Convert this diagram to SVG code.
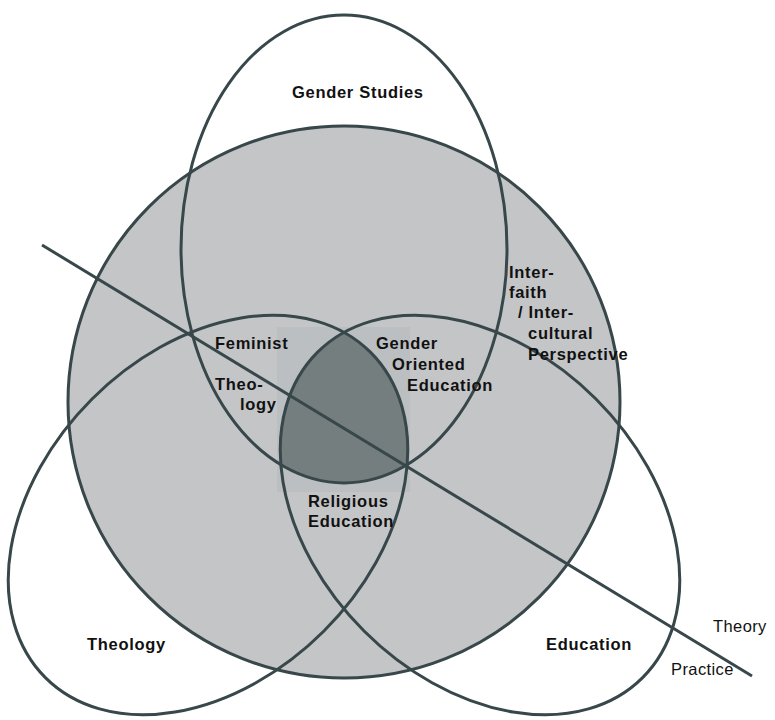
<svg xmlns="http://www.w3.org/2000/svg" width="775" height="720" viewBox="0 0 775 720">
  <style>
    .outline { fill: none; stroke: #37474a; stroke-width: 3; }
    .label { font-family: "Liberation Sans", Arial, sans-serif; font-size: 16.5px; font-weight: bold; letter-spacing: 0.7px; fill: #111; }
    .axis-label { font-family: "Liberation Sans", Arial, sans-serif; font-size: 16.5px; letter-spacing: 0.4px; fill: #111; }
  </style>
  <defs>
    <clipPath id="clip-theology">
      <ellipse cx="208" cy="515" rx="230" ry="164" transform="rotate(-45 208 515)"/>
    </clipPath>
    <clipPath id="clip-education">
      <ellipse cx="480" cy="515" rx="230" ry="164" transform="rotate(45 480 515)"/>
    </clipPath>
  </defs>

  <rect width="775" height="720" fill="#ffffff"/>

  <!-- shared field: large shaded circle -->
  <g id="field">
    <circle cx="344" cy="402" r="276" fill="#c4c5c7" stroke="#37474a" stroke-width="3"/>
  </g>

  <!-- central overlap of all three fields -->
  <g id="overlap">
    <rect x="277" y="327" width="133" height="165" fill="#bbbfc1"/>
    <g clip-path="url(#clip-theology)">
      <ellipse cx="344" cy="249" rx="163" ry="234" fill="#747e7f" clip-path="url(#clip-education)"/>
    </g>
  </g>

  <g id="gender-studies">
    <ellipse class="outline" cx="344" cy="249" rx="163" ry="234"/>
    <text class="label" x="292" y="98">Gender Studies</text>
  </g>

  <g id="theology">
    <ellipse class="outline" cx="208" cy="515" rx="230" ry="164" transform="rotate(-45 208 515)"/>
    <text class="label" x="87" y="650">Theology</text>
  </g>

  <g id="education">
    <ellipse class="outline" cx="480" cy="515" rx="230" ry="164" transform="rotate(45 480 515)"/>
    <text class="label" x="546" y="650">Education</text>
  </g>

  <g id="feminist-theology">
    <text class="label" x="215" y="349">Feminist</text>
    <text class="label" x="215" y="390">Theo-</text>
    <text class="label" x="240" y="410">logy</text>
  </g>

  <g id="gender-oriented-education">
    <text class="label" x="376" y="349">Gender</text>
    <text class="label" x="392" y="370">Oriented</text>
    <text class="label" x="407" y="391">Education</text>
  </g>

  <g id="religious-education">
    <text class="label" x="308" y="507">Religious</text>
    <text class="label" x="308" y="527">Education</text>
  </g>

  <g id="interfaith-perspective">
    <text class="label" x="509" y="278">Inter-</text>
    <text class="label" x="509" y="298">faith</text>
    <text class="label" x="518" y="318">/ Inter-</text>
    <text class="label" x="528" y="339">cultural</text>
    <text class="label" x="528" y="360">Perspective</text>
  </g>

  <!-- theory / practice divider -->
  <g id="connectors">
    <line x1="42" y1="245" x2="752" y2="676" stroke="#37474a" stroke-width="3"/>
    <text class="axis-label" x="713" y="632">Theory</text>
    <text class="axis-label" x="671" y="675">Practice</text>
  </g>
</svg>
